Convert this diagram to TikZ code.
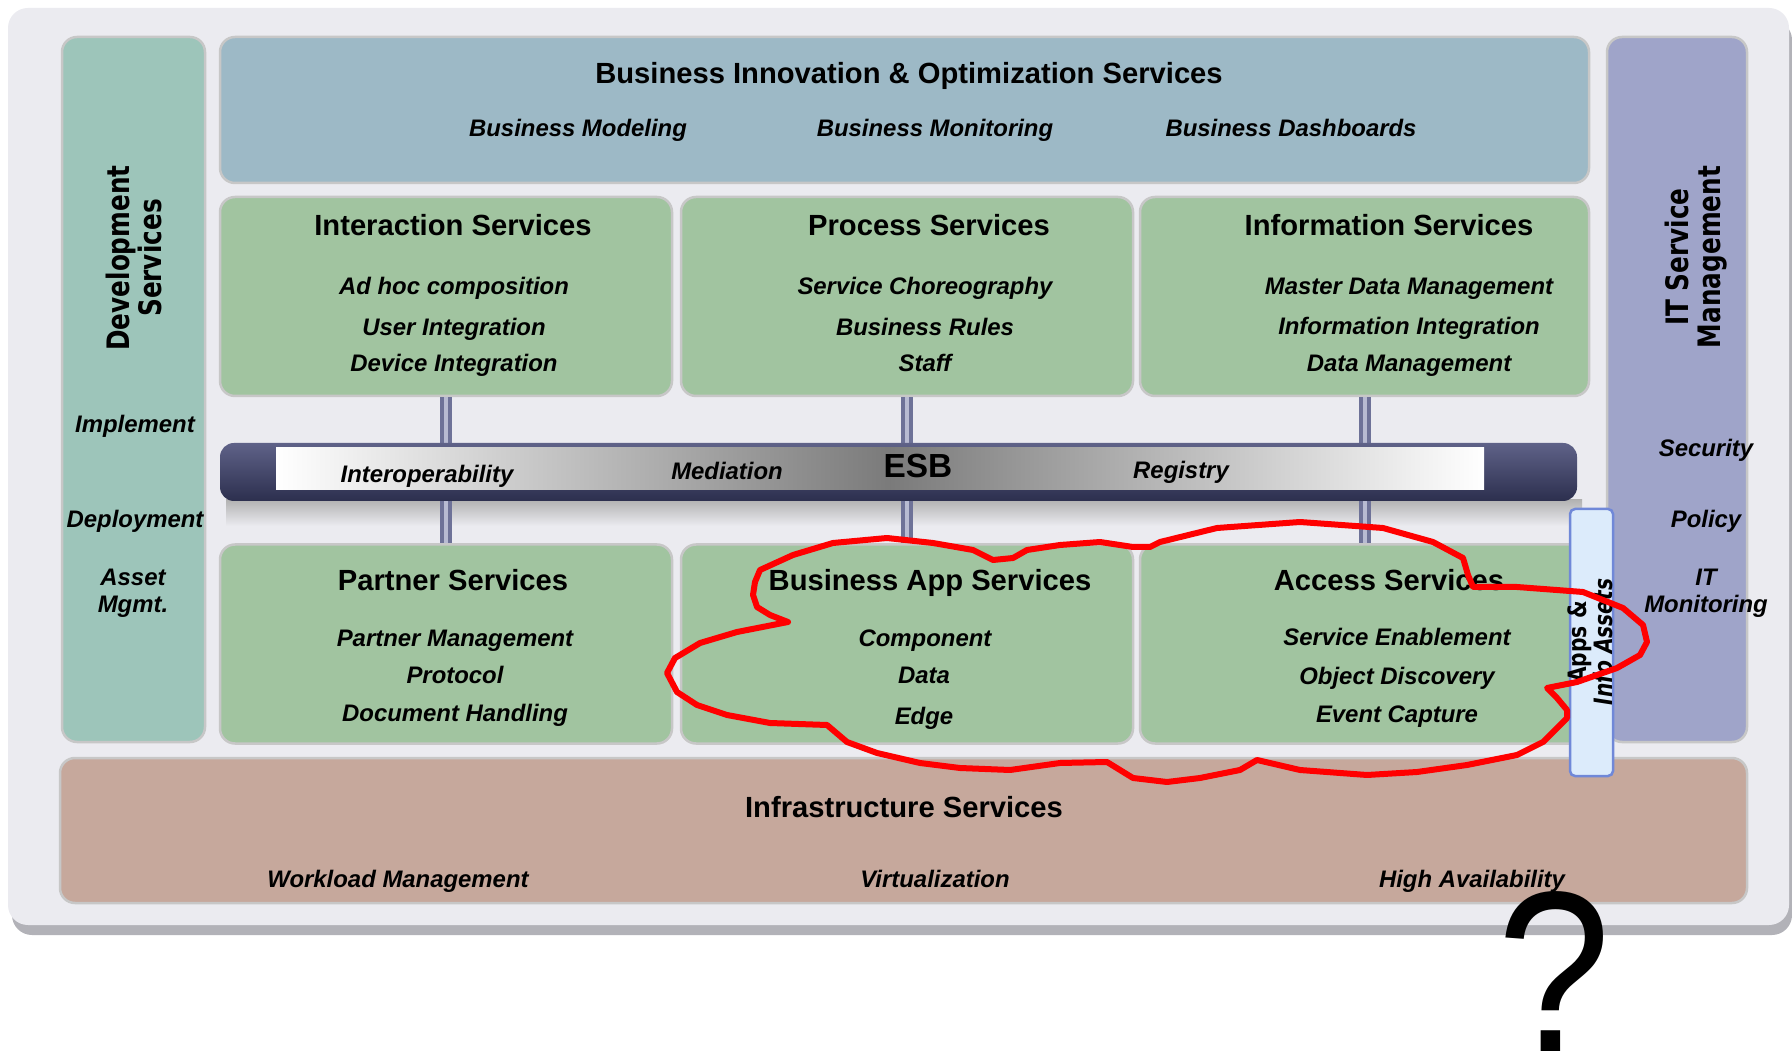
\documentclass[tikz,border=0pt]{standalone}
\usepackage{xcolor}
\usepackage{fontspec}
\setmainfont{Liberation Sans}
\newfontfamily\widefont[FakeStretch=0.8]{DejaVu Sans}
\usepackage{tikz}

\definecolor{panelbg}{HTML}{EBEBF0}
\definecolor{panelshd}{HTML}{B2B2B8}
\definecolor{devteal}{HTML}{9DC5BA}
\definecolor{bizblue}{HTML}{9DB9C6}
\definecolor{svcgreen}{HTML}{A1C4A0}
\definecolor{itlav}{HTML}{9FA4C9}
\definecolor{infrarose}{HTML}{C6A89C}
\definecolor{appsblue}{HTML}{DCEBFB}
\definecolor{appsline}{HTML}{7088D8}
\definecolor{esbdark}{HTML}{2C2F4E}
\definecolor{esbtop}{HTML}{5F6288}
\definecolor{esbmid}{HTML}{BFC1D8}
\definecolor{conndark}{HTML}{6E7298}
\definecolor{connlight}{HTML}{B8BBD2}

\begin{document}
\begin{tikzpicture}[x=0.1mm,y=-0.1mm,
		box/.style={draw=black!22, line width=0.25mm, rounded corners=1.5mm},
		svcbox/.style={box, fill=svcgreen, minimum width=45.2mm, minimum height=19.9mm, inner sep=0},
		head/.style={font=\fontsize{8.3}{10}\selectfont\bfseries, text height=0.716em, text depth=0pt, inner sep=0},
		item/.style={font=\fontsize{6.8}{7.4}\selectfont\bfseries\itshape, text height=0.716em, text depth=0pt, inner sep=0},
		side/.style={font=\fontsize{6.8}{7.6}\selectfont\bfseries\itshape, align=center, inner sep=0},
		vlabel/.style={font=\widefont\fontsize{8.8}{9.2}\selectfont\bfseries, rotate=90, align=center, inner sep=0},
		conn/.style={draw=conndark, double=connlight, line width=0.4mm, double distance=0.4mm},
		cloud/.style={draw=red, line width=0.6mm, line join=round}]
		\useasboundingbox (0,0) rectangle (1792,1051);
		\fill[white] (0,0) rectangle (1792,1051);
		% panel
		\fill[panelshd, rounded corners=2mm] (12,20) rectangle (1792,935);
		\fill[panelbg, rounded corners=2mm] (8,8) rectangle (1789,925);
		% side columns and top layer
		\filldraw[box, fill=devteal] (62,37) rectangle (205,742);
		\filldraw[box, fill=itlav] (1607,37) rectangle (1747,742);
		\filldraw[box, fill=bizblue] (220,37) rectangle (1589,183);
		% service boxes
		\node[svcbox] (interaction) at (446,296.5) {};
		\node[svcbox] (process) at (907,296.5) {};
		\node[svcbox, minimum width=44.9mm] (information) at (1364.5,296.5) {};
		\node[svcbox] (partner) at (446,644) {};
		\node[svcbox] (bizapp) at (907,644) {};
		\node[svcbox, minimum width=44.9mm] (access) at (1364.5,644) {};
		% ESB
		\shade[top color=black!30, bottom color=panelbg] (226,500) rectangle (1582,526);
		\draw[conn] (interaction.south) -- (partner.north);
		\draw[conn] (process.south) -- (bizapp.north);
		\draw[conn] (information.south) -- (access.north);
		\shade[top color=esbtop, middle color=esbmid, bottom color=esbdark, rounded corners=1.4mm] (220,443) rectangle (1577,501);
		\shade[left color=white, middle color=black!20, right color=black!52] (276,448) rectangle (890,490);
		\shade[left color=black!52, middle color=black!22, right color=white] (890,448) rectangle (1484,490);
		% infrastructure and apps
		\filldraw[box, fill=infrarose] (60,758) rectangle (1747,903);
		\filldraw[draw=appsline, line width=0.25mm, fill=appsblue, rounded corners=0.5mm] (1570,509) rectangle (1613,776);

		% top layer text
		\node[head] (biotitle) at (909,70.5) {Business Innovation \& Optimization Services};
		\node[item] (bmodel) at (578,124) {Business Modeling};
		\node[item] (bmon) at (935,124) {Business Monitoring};
		\node[item] (bdash) at (1291,124) {Business Dashboards};
		% upper services
		\node[head] (interactiontitle) at (453,222.5) {Interaction Services};
		\node[item] (adhoc) at (454,282) {Ad hoc composition};
		\node[item] (userint) at (454,323) {User Integration};
		\node[item] (devint) at (454,359) {Device Integration};
		\node[head] (processtitle) at (929,222.5) {Process Services};
		\node[item] (choreo) at (925,282) {Service Choreography};
		\node[item] (rules) at (925,323) {Business Rules};
		\node[item] (staff) at (925,359) {Staff};
		\node[head] (infotitle) at (1389,222.5) {Information Services};
		\node[item] (mdm) at (1409,282) {Master Data Management};
		\node[item] (infoint) at (1409,322) {Information Integration};
		\node[item] (datamgmt) at (1409,359) {Data Management};
		% ESB text
		\node[item] (interop) at (427,470) {Interoperability};
		\node[item] (mediation) at (727,467) {Mediation};
		\node[head, font=\fontsize{9.5}{11}\selectfont\bfseries] (esb) at (918,465) {ESB};
		\node[item] (registry) at (1181,466) {Registry};
		% lower services
		\node[head] (partnertitle) at (453,577.5) {Partner Services};
		\node[item] (partmgmt) at (455,634) {Partner Management};
		\node[item] (protocol) at (455,671) {Protocol};
		\node[item] (doc) at (455,709) {Document Handling};
		\node[head] (bizapptitle) at (930,577.5) {Business App Services};
		\node[item] (component) at (925,634) {Component};
		\node[item] (data) at (924,671) {Data};
		\node[item] (edge) at (924,712) {Edge};
		\node[head] (accesstitle) at (1389,577.5) {Access Services};
		\node[item] (enable) at (1397,633) {Service Enablement};
		\node[item] (discovery) at (1397,672) {Object Discovery};
		\node[item] (capture) at (1397,710) {Event Capture};
		% infrastructure
		\node[head] (infratitle) at (904,804.5) {Infrastructure Services};
		\node[item] (workload) at (398,875) {Workload Management};
		\node[item] (virt) at (935,875) {Virtualization};
		\node[item] (ha) at (1472,875) {High Availability};
		% side columns text
		\node[vlabel] (devtitle) at (134,258) {Development\\Services};
		\node[side] (implement) at (135,426.5) {Implement};
		\node[side] (deploy) at (135,521.5) {Deployment};
		\node[side] (asset) at (133,593.5) {Asset\\Mgmt.};
		\node[vlabel] (ittitle) at (1696,257) {IT Service\\Management};
		\node[side] (security) at (1706,450.5) {Security};
		\node[side] (policy) at (1706,521.5) {Policy};
		\node[side] (itmon) at (1706,593.5) {IT\\Monitoring};
		\node[vlabel, font=\widefont\fontsize{7.2}{7.4}\selectfont\bfseries] (apps) at (1590,642) {Apps \&\\\itshape Info Assets};

		% red cloud
		\draw[cloud] (788,622) -- (770,615) -- (757,607) -- (753,595) -- (755,582) -- (760,570)
			-- (793,555) -- (833,543) -- (887,538) -- (933,543) -- (973,550) -- (993,560)
			-- (1013,558) -- (1027,550) -- (1060,545) -- (1100,542) -- (1133,547) -- (1150,547)
			-- (1160,542) -- (1217,528) -- (1300,522) -- (1383,528) -- (1433,542) -- (1463,558)
			-- (1468,575) -- (1473,587) -- (1517,587) -- (1583,592) -- (1623,608) -- (1643,625)
			-- (1647,642) -- (1640,655) -- (1617,668) -- (1577,682) -- (1547,688) -- (1557,698)
			-- (1567,710) -- (1567,718) -- (1543,742) -- (1517,755) -- (1467,765) -- (1417,772)
			-- (1367,775) -- (1300,770) -- (1257,760) -- (1240,770) -- (1200,778) -- (1167,782)
			-- (1133,778) -- (1107,762) -- (1060,763) -- (1010,770) -- (960,768) -- (920,763)
			-- (877,753) -- (847,742) -- (827,725) -- (770,723) -- (727,715) -- (697,705)
			-- (677,692) -- (667,673) -- (675,658) -- (700,643) -- (737,632) -- cycle;
		% question mark
		\node[anchor=base, inner sep=0, xscale=0.88, font=\fontsize{66}{66}\selectfont] (qmark) at (1554,1053) {?};
	\end{tikzpicture}
\end{document}
